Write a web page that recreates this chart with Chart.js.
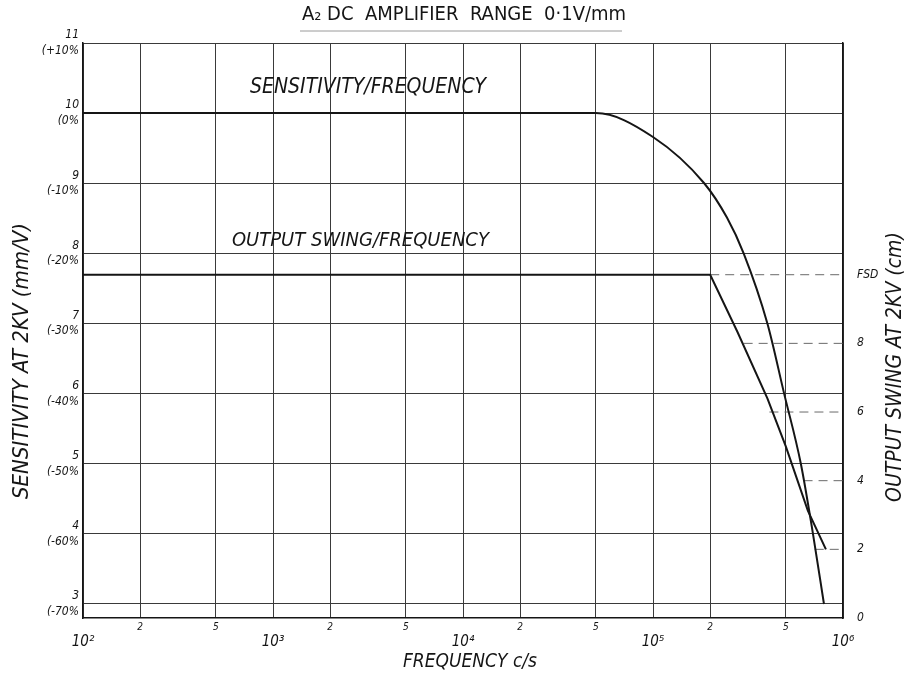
<!DOCTYPE html>
<html>
<head>
<meta charset="utf-8">
<script src="https://cdn.jsdelivr.net/npm/chart.js@4.4.1/dist/chart.umd.min.js"></script>
<style>
html, body { margin: 0; padding: 0; background: #fff; }
</style>
</head>
<body>
<canvas id="ampChart" width="915" height="681"></canvas>
<script>
/* A2 DC amplifier - sensitivity and output swing vs frequency */

// sensitivity curve (left axis, mm/V)
const sensFreq  = [100, 5e4, 1e5,  1.86e5, 2.45e5, 3.0e5, 4.0e5, 4.9e5, 6.0e5, 6.95e5, 7.94e5];
const sensValue = [10,  10,  9.66, 9.0,    8.51,   8.0,   7.0,   6.0,   5.0,   4.0,    3.0];

// output swing curve (right axis, cm)
const swingFreq  = [100, 2e5, 2.78e5, 4.0e5, 5.0e5, 6.53e5, 8.13e5];
const swingValue = [10,  10,  8.34,   6.4,   5.0,   3.13,   2.0];

// short dashed reference lines on the right axis
const swingMarkValue = [2, 4, 6, 8, 10];
const swingMarkFrom  = [7.1e5, 6.2e5, 4.1e5, 3.0e5, 2.0e5];

// tick labels
const xTickValues = [1e2, 2e2, 5e2, 1e3, 2e3, 5e3, 1e4, 2e4, 5e4, 1e5, 2e5, 5e5, 1e6];
const xTickLabels = [['', '10²'], '2', '5', ['', '10³'], '2', '5', ['', '10⁴'], '2', '5', ['', '10⁵'], '2', '5', ['', '10⁶']];
const sensTickValues = [3, 4, 5, 6, 7, 8, 9, 10, 11];
const sensTickLabels = [['3', '(-70%'], ['4', '(-60%'], ['5', '(-50%'], ['6', '(-40%'], ['7', '(-30%'],
                        ['8', '(-20%'], ['9', '(-10%'], ['10', '(0%'], ['11', '(+10%']];
const swingTickValues = [0, 2, 4, 6, 8, 10];
const swingTickLabels = ['0', '2', '4', '6', '8', 'FSD'];

// curve captions, placed in data coordinates (freq, sensitivity)
const captionText  = ['SENSITIVITY/FREQUENCY', 'OUTPUT SWING/FREQUENCY'];
const captionFreq  = [757, 608];
const captionValue = [10.36, 8.18];
const captionSize  = [21, 20];

const handFont = '"DejaVu Sans Condensed", "DejaVu Sans", sans-serif';
const ink = '#151515';
const gridInk = '#3a3a3a';

const paperText = {
    id: 'paperText',
    afterDraw(chart) {
        const ctx = chart.ctx;
        const xs = chart.scales.x;
        const ys = chart.scales.y;
        ctx.save();
        ctx.fillStyle = ink;

        // title with underline
        ctx.font = '20px ' + handFont;
        ctx.textAlign = 'center';
        ctx.textBaseline = 'middle';
        ctx.fillText('A₂ DC  AMPLIFIER  RANGE  0·1V/mm', 464, 15);
        ctx.strokeStyle = '#9a9a9a';
        ctx.lineWidth = 1;
        ctx.beginPath();
        ctx.moveTo(300, 31);
        ctx.lineTo(622, 31);
        ctx.stroke();

        // curve captions
        ctx.textAlign = 'left';
        captionText.forEach((t, i) => {
            ctx.font = 'italic ' + captionSize[i] + 'px ' + handFont;
            ctx.fillText(t, xs.getPixelForValue(captionFreq[i]), ys.getPixelForValue(captionValue[i]));
        });

        // x title
        ctx.textAlign = 'center';
        ctx.font = 'italic 19px ' + handFont;
        ctx.fillText('FREQUENCY c/s', 470, 662);

        // side titles, both read bottom to top
        ctx.save();
        ctx.font = 'italic 22px ' + handFont;
        ctx.translate(22, 361);
        ctx.rotate(-Math.PI / 2);
        ctx.fillText('SENSITIVITY AT 2KV (mm/V)', 0, 0);
        ctx.restore();

        ctx.save();
        ctx.font = 'italic 21px ' + handFont;
        ctx.translate(896, 367);
        ctx.rotate(-Math.PI / 2);
        ctx.fillText('OUTPUT SWING AT 2KV (cm)', 0, 0);
        ctx.restore();

        ctx.restore();
    }
};

const datasets = [
    {
        label: 'Sensitivity',
        data: sensFreq.map((f, i) => ({ x: f, y: sensValue[i] })),
        yAxisID: 'y',
        borderColor: ink,
        borderWidth: 2,
        pointRadius: 0,
        cubicInterpolationMode: 'monotone'
    },
    {
        label: 'Output swing',
        data: swingFreq.map((f, i) => ({ x: f, y: swingValue[i] })),
        yAxisID: 'y2',
        borderColor: ink,
        borderWidth: 2,
        pointRadius: 0,
        tension: 0
    }
];

swingMarkValue.forEach((v, i) => {
    datasets.push({
        label: 'mark ' + v,
        data: [{ x: swingMarkFrom[i], y: v }, { x: 1e6, y: v }],
        yAxisID: 'y2',
        borderColor: '#6a6a6a',
        borderWidth: 1,
        borderDash: [9, 6],
        pointRadius: 0
    });
});

new Chart(document.getElementById('ampChart'), {
    type: 'line',
    data: { datasets: datasets },
    options: {
        responsive: false,
        animation: false,
        layout: { padding: { top: 43, left: 0, right: 0, bottom: 0 } },
        plugins: {
            legend: { display: false },
            tooltip: { enabled: false },
            title: { display: false }
        },
        scales: {
            x: {
                type: 'logarithmic',
                position: 'bottom',
                min: 100,
                max: 1e6,
                afterBuildTicks: s => { s.ticks = xTickValues.map(v => ({ value: v })); },
                afterFit: s => { s.height = 63; },
                grid: { color: gridInk, lineWidth: 1, drawTicks: false },
                border: { color: ink, width: 1.5 },
                ticks: {
                    autoSkip: false,
                    maxRotation: 0,
                    padding: 3,
                    color: ink,
                    callback: (v, i) => xTickLabels[i],
                    font: c => (c.index % 3 === 0)
                        ? { family: handFont, size: 15, style: 'italic', lineHeight: 0.95 }
                        : { family: handFont, size: 10, style: 'italic' }
                }
            },
            y: {
                type: 'linear',
                position: 'left',
                min: 2.8,
                max: 11,
                afterBuildTicks: s => { s.ticks = sensTickValues.map(v => ({ value: v })); },
                afterFit: s => { s.width = 83; },
                grid: { color: gridInk, lineWidth: 1, drawTicks: false },
                border: { color: ink, width: 1.5 },
                ticks: {
                    padding: 4,
                    color: ink,
                    callback: (v, i) => sensTickLabels[i],
                    font: { family: handFont, size: 12, style: 'italic', lineHeight: 1.3 }
                }
            },
            y2: {
                type: 'linear',
                position: 'right',
                min: 0,
                max: 16.75,
                afterBuildTicks: s => { s.ticks = swingTickValues.map(v => ({ value: v })); },
                afterFit: s => { s.width = 72; },
                grid: { drawOnChartArea: false, drawTicks: false },
                border: { color: ink, width: 1.5 },
                ticks: {
                    padding: 14,
                    color: ink,
                    callback: (v, i) => swingTickLabels[i],
                    font: { family: handFont, size: 12, style: 'italic' }
                }
            }
        }
    },
    plugins: [paperText]
});
</script>
</body>
</html>
